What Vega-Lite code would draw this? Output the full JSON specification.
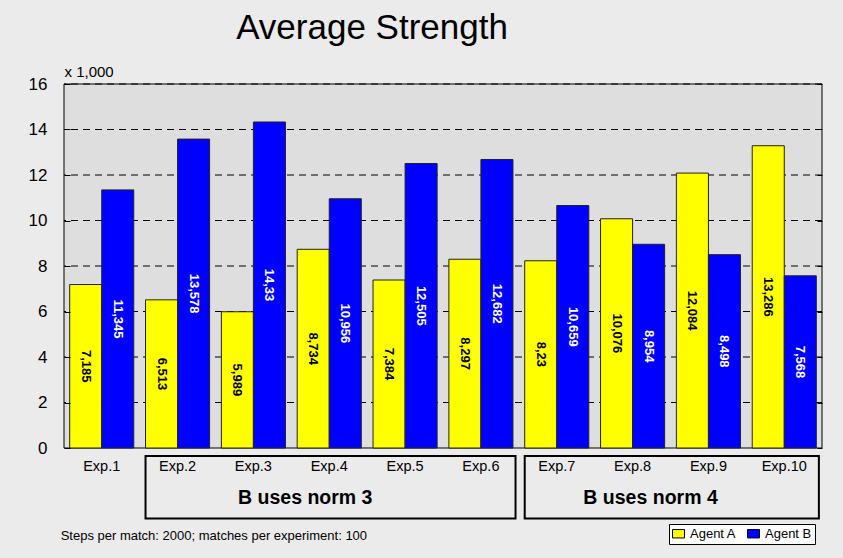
{
  "$schema": "https://vega.github.io/schema/vega-lite/v6.json",
  "width": 758,
  "height": 455,
  "autosize": {"type": "none"},
  "padding": {"left": 64, "top": 84, "right": 21, "bottom": 19},
  "background": "#ebebeb",
  "title": {"text": "Average Strength", "fontSize": 35, "fontWeight": "normal", "font": "Liberation Sans", "color": "black", "anchor": "middle", "frame": "group", "dx": -71, "offset": 18},
  "config": {
    "font": "Liberation Sans",
    "view": {"stroke": null, "fill": null},
    "axisX": {"disable": true},
    "locale": {"number": {"decimal": ",", "thousands": ".", "grouping": [3], "currency": ["", ""]}}
  },
  "datasets": {
    "main": [
      {"exp": "Exp.1", "agent": "Agent A", "value": 7.185},
      {"exp": "Exp.1", "agent": "Agent B", "value": 11.345},
      {"exp": "Exp.2", "agent": "Agent A", "value": 6.513},
      {"exp": "Exp.2", "agent": "Agent B", "value": 13.578},
      {"exp": "Exp.3", "agent": "Agent A", "value": 5.989},
      {"exp": "Exp.3", "agent": "Agent B", "value": 14.33},
      {"exp": "Exp.4", "agent": "Agent A", "value": 8.734},
      {"exp": "Exp.4", "agent": "Agent B", "value": 10.956},
      {"exp": "Exp.5", "agent": "Agent A", "value": 7.384},
      {"exp": "Exp.5", "agent": "Agent B", "value": 12.505},
      {"exp": "Exp.6", "agent": "Agent A", "value": 8.297},
      {"exp": "Exp.6", "agent": "Agent B", "value": 12.682},
      {"exp": "Exp.7", "agent": "Agent A", "value": 8.23},
      {"exp": "Exp.7", "agent": "Agent B", "value": 10.659},
      {"exp": "Exp.8", "agent": "Agent A", "value": 10.076},
      {"exp": "Exp.8", "agent": "Agent B", "value": 8.954},
      {"exp": "Exp.9", "agent": "Agent A", "value": 12.084},
      {"exp": "Exp.9", "agent": "Agent B", "value": 8.498},
      {"exp": "Exp.10", "agent": "Agent A", "value": 13.286},
      {"exp": "Exp.10", "agent": "Agent B", "value": 7.568}
    ],
    "plotarea": [{"lo": 0, "hi": 16}],
    "grid": [{"v": 2}, {"v": 4}, {"v": 6}, {"v": 8}, {"v": 10}, {"v": 12}, {"v": 14}, {"v": 16}],
    "groups": [
      {"group": "B uses norm 3", "first": "Exp.2", "last": "Exp.6"},
      {"group": "B uses norm 4", "first": "Exp.7", "last": "Exp.10"}
    ],
    "note": [{"note": "Steps per match: 2000; matches per experiment: 100"}]
  },
  "resolve": {"axis": {"y": "independent"}},
  "layer": [
    {
      "data": {"name": "plotarea"},
      "mark": {"type": "rect", "fill": "#dedede", "stroke": "black", "strokeWidth": 1},
      "encoding": {
        "y": {"field": "lo", "type": "quantitative",
          "scale": {"domain": [-4, 16], "nice": false, "zero": false},
          "axis": {"orient": "left", "offset": -6, "values": [0, 2, 4, 6, 8, 10, 12, 14, 16], "title": "x 1,000", "titleAngle": 0, "titleAlign": "left", "titleBaseline": "alphabetic", "titleX": -6, "titleY": -8, "titleFontSize": 15, "titleFontWeight": "normal", "titleColor": "black", "domain": false, "grid": false, "ticks": true, "tickSize": 6, "tickColor": "black", "labelFontSize": 17, "labelColor": "black", "labelPadding": 17, "zindex": 1}},
        "y2": {"field": "hi"}
      }
    },
    {
      "data": {"name": "grid"},
      "mark": {"type": "rule", "color": "black", "strokeWidth": 1, "strokeDash": [7, 5]},
      "encoding": {
        "y": {"field": "v", "type": "quantitative",
          "axis": {"orient": "right", "offset": -5, "values": [0, 2, 4, 6, 8, 10, 12, 14, 16], "labels": false, "domain": false, "grid": false, "ticks": true, "tickSize": 5, "tickColor": "black", "title": null, "zindex": 1}}
      }
    },
    {
      "data": {"name": "main"},
      "mark": {"type": "bar", "stroke": "#222", "strokeWidth": 1},
      "encoding": {
        "x": {"field": "exp", "type": "nominal", "scale": {"domain": ["Exp.1", "Exp.2", "Exp.3", "Exp.4", "Exp.5", "Exp.6", "Exp.7", "Exp.8", "Exp.9", "Exp.10"], "paddingInner": 0.155, "paddingOuter": 0.075}},
        "xOffset": {"field": "agent", "type": "nominal", "scale": {"domain": ["Agent A", "Agent B"], "paddingInner": 0, "paddingOuter": 0}},
        "y": {"field": "value", "type": "quantitative", "axis": null},
        "color": {"field": "agent", "type": "nominal", "scale": {"domain": ["Agent A", "Agent B"], "range": ["#ffff00", "#0000ff"]},
          "legend": {"title": null, "orient": "none", "legendX": 605, "legendY": 440, "direction": "horizontal", "fillColor": "white", "strokeColor": "black", "padding": 3, "symbolType": "M-1,-0.7H1V0.7H-1Z", "symbolSize": 144, "symbolStrokeColor": "black", "symbolStrokeWidth": 1, "symbolOpacity": 1, "labelFontSize": 13, "labelColor": "black", "columnPadding": 8, "labelOffset": 5}}
      }
    },
    {
      "data": {"name": "main"},
      "mark": {"type": "text", "angle": 90, "align": "center", "baseline": "middle", "fontSize": 13, "fontWeight": "bold"},
      "encoding": {
        "x": {"field": "exp", "type": "nominal"},
        "xOffset": {"field": "agent", "type": "nominal"},
        "detail": {"field": "agent", "type": "nominal"},
        "y": {"field": "value", "type": "quantitative", "stack": "zero", "bandPosition": 0.5, "axis": null},
        "text": {"field": "value", "type": "quantitative", "format": ".3~f"},
        "color": {"condition": {"test": "datum.agent === 'Agent B'", "value": "white"}, "value": "black"}
      }
    },
    {
      "data": {"name": "main"},
      "transform": [{"filter": "datum.agent === 'Agent A'"}],
      "mark": {"type": "text", "align": "center", "baseline": "middle", "fontSize": 14.5, "color": "black"},
      "encoding": {
        "x": {"field": "exp", "type": "nominal"},
        "y": {"datum": -0.84, "type": "quantitative", "axis": null},
        "text": {"field": "exp"}
      }
    },
    {
      "data": {"name": "groups"},
      "mark": {"type": "rect", "fill": "white", "fillOpacity": 0, "stroke": "black", "strokeWidth": 2},
      "encoding": {
        "x": {"field": "first", "type": "nominal", "bandPosition": 0},
        "x2": {"field": "last", "bandPosition": 1.04},
        "y": {"datum": -0.35, "type": "quantitative", "axis": null},
        "y2": {"datum": -3.1}
      }
    },
    {
      "data": {"name": "groups"},
      "transform": [{"filter": "datum.group === 'B uses norm 3'"}],
      "mark": {"type": "text", "align": "center", "baseline": "middle", "fontSize": 19.5, "fontWeight": "bold", "color": "black"},
      "encoding": {
        "x": {"datum": "Exp.4", "type": "nominal", "bandPosition": 0.125},
        "y": {"datum": -2.2, "type": "quantitative", "axis": null},
        "text": {"field": "group"}
      }
    },
    {
      "data": {"name": "groups"},
      "transform": [{"filter": "datum.group === 'B uses norm 4'"}],
      "mark": {"type": "text", "align": "center", "baseline": "middle", "fontSize": 19.5, "fontWeight": "bold", "color": "black"},
      "encoding": {
        "x": {"datum": "Exp.8", "type": "nominal", "bandPosition": 0.78},
        "y": {"datum": -2.2, "type": "quantitative", "axis": null},
        "text": {"field": "group"}
      }
    },
    {
      "data": {"name": "note"},
      "mark": {"type": "text", "align": "left", "baseline": "middle", "fontSize": 13, "color": "black", "dx": -9},
      "encoding": {
        "x": {"datum": "Exp.1", "type": "nominal", "bandPosition": 0},
        "y": {"datum": -3.87, "type": "quantitative", "axis": null},
        "text": {"field": "note"}
      }
    }
  ]
}
